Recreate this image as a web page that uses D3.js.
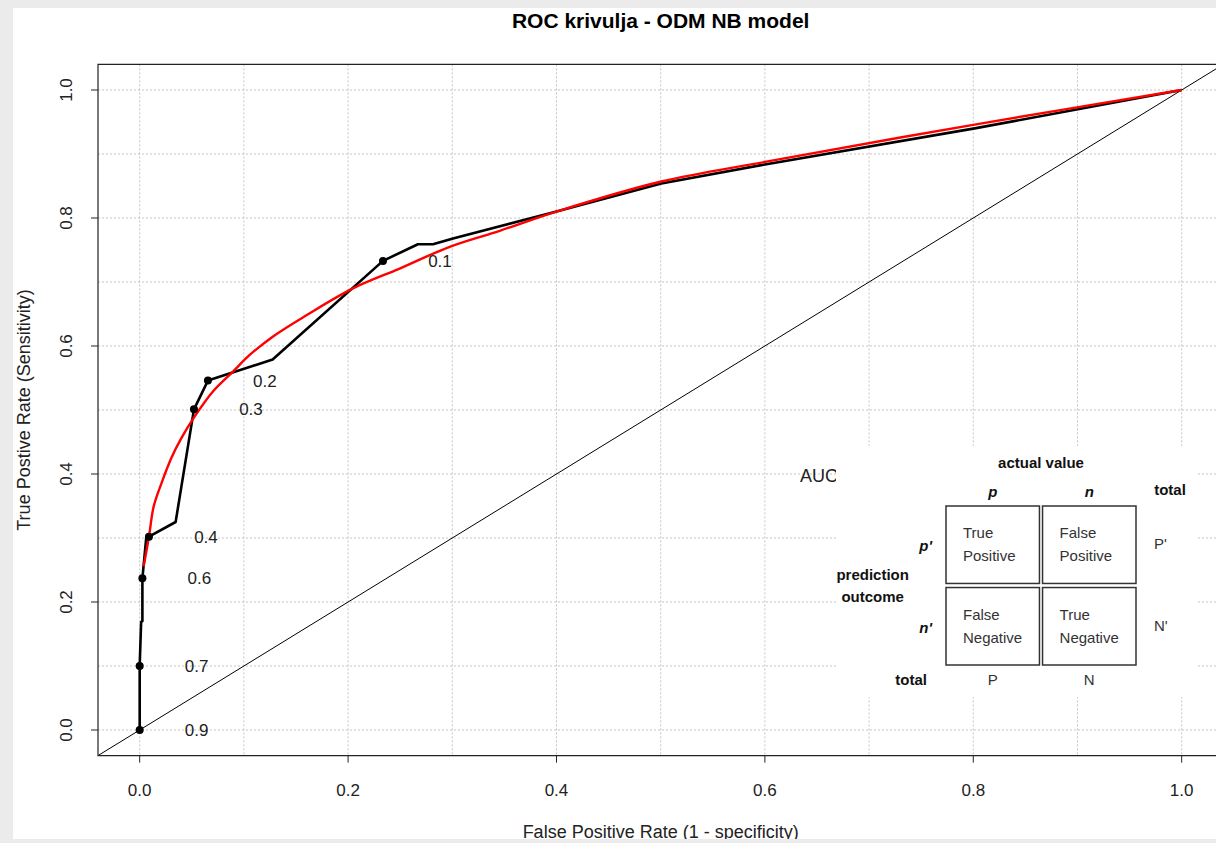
<!DOCTYPE html>
<html>
<head>
<meta charset="utf-8">
<script src="https://cdn.jsdelivr.net/npm/d3@7/dist/d3.min.js"></script>
<style>
  body { margin: 0; background: #ebebeb; }
  text { font-family: "Liberation Sans", Arial, sans-serif; }
</style>
</head>
<body>
<div id="chart"></div>
<script>
var rocFpr = [0, 0, 0.0014, 0.0026, 0.0026, 0.0064, 0.0089, 0.0345, 0.0521, 0.0655, 0.1276, 0.2335, 0.267, 0.2815, 0.3007, 0.40, 0.5006, 0.6014, 0.8013, 1];
var rocTpr = [0, 0.1, 0.169, 0.17, 0.237, 0.302, 0.302, 0.325, 0.501, 0.546, 0.579, 0.733, 0.759, 0.759, 0.768, 0.81, 0.854, 0.884, 0.940, 1];

// smoothed ROC curve (red)
var smoothFpr = [0.0038, 0.0089, 0.0134, 0.0208, 0.0304, 0.040, 0.0528, 0.0703, 0.0895, 0.1056, 0.128, 0.160, 0.2047, 0.2495, 0.2975, 0.3455, 0.40, 0.5006, 0.6014, 0.8013, 1];
var smoothTpr = [0.256, 0.302, 0.349, 0.385, 0.425, 0.456, 0.490, 0.529, 0.560, 0.586, 0.615, 0.648, 0.690, 0.721, 0.755, 0.780, 0.81, 0.857, 0.888, 0.946, 1];

// cutoff points
var cutoffLabels = ["0.9", "0.7", "0.6", "0.4", "0.3", "0.2", "0.1"];
var cutoffFpr = [0, 0, 0.0026, 0.0089, 0.0521, 0.0655, 0.2335];
var cutoffTpr = [0, 0.1, 0.237, 0.302, 0.501, 0.546, 0.733];

var axisTicks = [0, 0.2, 0.4, 0.6, 0.8, 1.0];
var gridTicks = [0, 0.1, 0.2, 0.3, 0.4, 0.5, 0.6, 0.7, 0.8, 0.9, 1.0];

// confusion matrix picture
var matrixCols = ["p", "n"];
var matrixRows = ["p'", "n'"];
var matrixCells = [["True", "Positive"], ["False", "Positive"], ["False", "Negative"], ["True", "Negative"]];
var rowTotals = ["P'", "N'"];
var colTotals = ["P", "N"];

var W = 1216, H = 843;

var svg = d3.select("#chart")
  .append("svg")
    .attr("width", W)
    .attr("height", H);

// white page behind the plot
svg.append("rect")
  .attr("x", 13).attr("y", 8)
  .attr("width", W - 13).attr("height", 831)
  .attr("fill", "#ffffff");

var xScale = d3.scaleLinear().domain([-0.04, 1.04]).range([98, 98 + 1.08 * 1042]);
var yScale = d3.scaleLinear().domain([-0.04, 1.04]).range([755.6, 64.4]);

var plotX0 = xScale(-0.04), plotX1 = xScale(1.04),
    plotY0 = yScale(1.04), plotY1 = yScale(-0.04);

svg.append("clipPath").attr("id", "plotclip")
  .append("rect")
    .attr("x", plotX0).attr("y", plotY0)
    .attr("width", plotX1 - plotX0).attr("height", plotY1 - plotY0);

// grid
var grid = svg.append("g").attr("stroke", "#c4c4c4").attr("stroke-dasharray", "2,2").attr("stroke-width", 1);
grid.selectAll("line.gx").data(gridTicks).enter().append("line")
  .attr("x1", d => xScale(d)).attr("x2", d => xScale(d))
  .attr("y1", plotY0).attr("y2", plotY1);
grid.selectAll("line.gy").data(gridTicks).enter().append("line")
  .attr("y1", d => yScale(d)).attr("y2", d => yScale(d))
  .attr("x1", plotX0).attr("x2", plotX1);

var plot = svg.append("g").attr("clip-path", "url(#plotclip)");

// diagonal
plot.append("line")
  .attr("x1", xScale(-0.04)).attr("y1", yScale(-0.04))
  .attr("x2", xScale(1.04)).attr("y2", yScale(1.04))
  .attr("stroke", "#000").attr("stroke-width", 1);

var rocData = rocFpr.map((f, i) => [f, rocTpr[i]]);
var smoothData = smoothFpr.map((f, i) => [f, smoothTpr[i]]);

var line = d3.line()
  .x(d => xScale(d[0]))
  .y(d => yScale(d[1]));

plot.append("path")
  .datum(rocData)
  .attr("fill", "none")
  .attr("stroke", "#000")
  .attr("stroke-width", 2.6)
  .attr("stroke-linejoin", "round")
  .attr("d", line);

plot.append("path")
  .datum(smoothData)
  .attr("fill", "none")
  .attr("stroke", "#ff0000")
  .attr("stroke-width", 2.4)
  .attr("stroke-linejoin", "round")
  .attr("d", d3.line().x(d => xScale(d[0])).y(d => yScale(d[1])).curve(d3.curveCatmullRom.alpha(0.5)));

// cutoff dots and labels
var cutoffs = cutoffLabels.map((l, i) => ({label: l, fpr: cutoffFpr[i], tpr: cutoffTpr[i]}));

plot.selectAll("circle.cut").data(cutoffs).enter().append("circle")
  .attr("cx", d => xScale(d.fpr))
  .attr("cy", d => yScale(d.tpr))
  .attr("r", 4)
  .attr("fill", "#000");

svg.selectAll("text.cut").data(cutoffs).enter().append("text")
  .attr("x", d => xScale(d.fpr) + 57)
  .attr("y", d => yScale(d.tpr))
  .attr("dy", "0.36em")
  .attr("text-anchor", "middle")
  .style("font-size", "17px")
  .attr("fill", "#222")
  .text(d => d.label);

// AUC text, mostly hidden behind the matrix picture
svg.append("clipPath").attr("id", "aucclip")
  .append("rect").attr("x", 780).attr("y", 450).attr("width", 58).attr("height", 50);
svg.append("text")
  .attr("clip-path", "url(#aucclip)")
  .attr("x", 800).attr("y", 476)
  .attr("dy", "0.36em")
  .style("font-size", "18px")
  .attr("fill", "#222")
  .text("AUC");

// box
svg.append("path")
  .attr("d", "M" + plotX1 + "," + plotY0 + "H" + plotX0 + "V" + plotY1 + "H" + plotX1)
  .attr("fill", "none")
  .attr("stroke", "#222")
  .attr("stroke-width", 1.2);

// x axis
var xAxis = svg.append("g");
xAxis.selectAll("line").data(axisTicks).enter().append("line")
  .attr("x1", d => xScale(d)).attr("x2", d => xScale(d))
  .attr("y1", plotY1).attr("y2", plotY1 + 7)
  .attr("stroke", "#222");
xAxis.selectAll("text").data(axisTicks).enter().append("text")
  .attr("x", d => xScale(d)).attr("y", 796)
  .attr("text-anchor", "middle")
  .style("font-size", "17px")
  .attr("fill", "#222")
  .text(d => d3.format(".1f")(d));

// y axis
var yAxis = svg.append("g");
yAxis.selectAll("line").data(axisTicks).enter().append("line")
  .attr("y1", d => yScale(d)).attr("y2", d => yScale(d))
  .attr("x1", plotX0).attr("x2", plotX0 - 7)
  .attr("stroke", "#222");
yAxis.selectAll("text").data(axisTicks).enter().append("text")
  .attr("transform", d => "translate(72," + yScale(d) + ") rotate(-90)")
  .attr("text-anchor", "middle")
  .style("font-size", "17px")
  .attr("fill", "#222")
  .text(d => d3.format(".1f")(d));

// title and axis labels
svg.append("text")
  .attr("x", (plotX0 + plotX1) / 2).attr("y", 28)
  .attr("text-anchor", "middle")
  .style("font-size", "21px")
  .style("font-weight", "bold")
  .text("ROC krivulja - ODM NB model");

svg.append("text")
  .attr("x", (plotX0 + plotX1) / 2).attr("y", 838)
  .attr("text-anchor", "middle")
  .style("font-size", "18px")
  .attr("fill", "#222")
  .text("False Positive Rate (1 - specificity)");

svg.append("text")
  .attr("transform", "translate(30," + (plotY0 + plotY1) / 2 + ") rotate(-90)")
  .attr("text-anchor", "middle")
  .style("font-size", "18px")
  .attr("fill", "#222")
  .text("True Postive Rate (Sensitivity)");

// confusion matrix picture pasted on the plot
var cm = svg.append("g").attr("transform", "translate(836,446)");
cm.append("rect").attr("width", 360).attr("height", 251).attr("fill", "#fff");

var colBand = d3.scaleBand().domain(matrixCols).range([110, 300]).paddingInner(0.032);
var rowBand = d3.scaleBand().domain(matrixRows).range([60, 219]).paddingInner(0.05);

var cells = [];
matrixRows.forEach(function(r, i) {
  matrixCols.forEach(function(c, j) {
    cells.push({row: r, col: c, lines: matrixCells[i * 2 + j]});
  });
});

var cellG = cm.selectAll("g.cell").data(cells).enter().append("g")
  .attr("transform", d => "translate(" + colBand(d.col) + "," + rowBand(d.row) + ")");
cellG.append("rect")
  .attr("width", colBand.bandwidth()).attr("height", rowBand.bandwidth())
  .attr("fill", "none").attr("stroke", "#333").attr("stroke-width", 1.5);
cellG.append("text")
  .attr("x", 17).attr("y", 27).attr("dy", "0.36em")
  .style("font-size", "15px").attr("fill", "#333")
  .text(d => d.lines[0]);
cellG.append("text")
  .attr("x", 17).attr("y", 50).attr("dy", "0.36em")
  .style("font-size", "15px").attr("fill", "#333")
  .text(d => d.lines[1]);

function cmText(x, y, txt, anchor, bold, italic) {
  cm.append("text")
    .attr("x", x).attr("y", y).attr("dy", "0.36em")
    .attr("text-anchor", anchor)
    .style("font-size", "15px")
    .style("font-weight", bold ? "bold" : "normal")
    .style("font-style", italic ? "italic" : "normal")
    .attr("fill", bold ? "#111" : "#333")
    .text(txt);
}

cmText(205, 16.7, "actual value", "middle", true, false);
matrixCols.forEach(function(c) {
  cmText(colBand(c) + colBand.bandwidth() / 2, 45.7, c, "middle", true, true);
});
cmText(334, 44, "total", "middle", true, false);
matrixRows.forEach(function(r, i) {
  cmText(96, rowBand(r) + 40, r, "end", true, true);
  cmText(318, rowBand(r) + 38, rowTotals[i], "start", false, false);
});
cmText(36.7, 128.3, "prediction", "middle", true, false);
cmText(36.7, 150.7, "outcome", "middle", true, false);
cmText(91, 234, "total", "end", true, false);
matrixCols.forEach(function(c, j) {
  cmText(colBand(c) + colBand.bandwidth() / 2, 234, colTotals[j], "middle", false, false);
});

// screenshot border at the bottom
svg.append("rect")
  .attr("x", 0).attr("y", 839)
  .attr("width", W).attr("height", H - 839)
  .attr("fill", "#ebebeb");
</script>
</body>
</html>
